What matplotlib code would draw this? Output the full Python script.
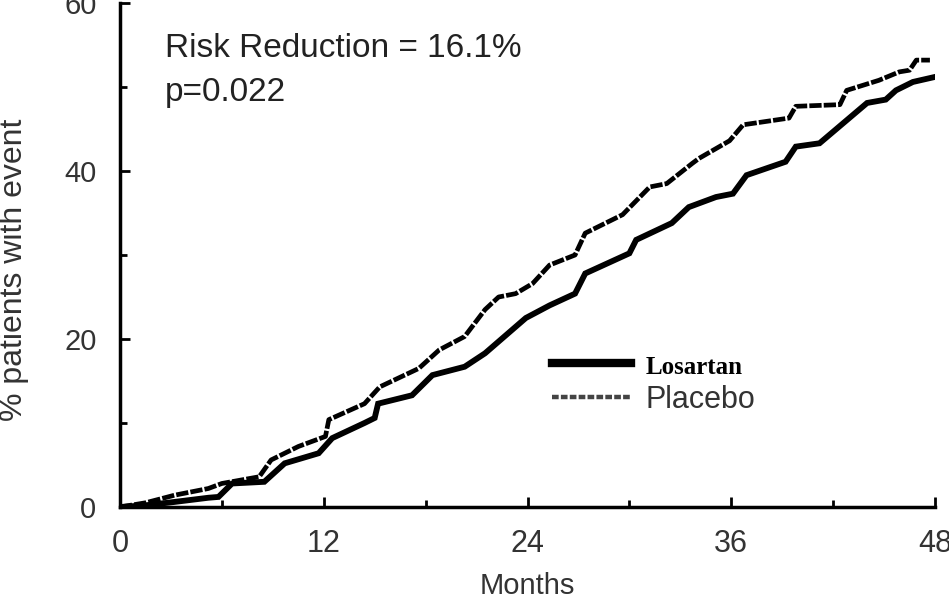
import matplotlib
matplotlib.use("Agg")
import matplotlib.pyplot as plt
from matplotlib.lines import Line2D
from matplotlib.ticker import MultipleLocator

# ---- data ----
months_placebo = [0, 1.5, 3.2, 5.2, 6.0, 8.2, 8.9, 10.5, 12.1, 12.3, 14.4, 15.3, 17.6, 18.8,
                  20.3, 21.5, 22.3, 23.3, 24.3, 25.3, 26.8, 27.4, 29.6, 31.2, 32.2, 33.7,
                  34.1, 35.9, 36.7, 39.4, 39.8, 42.4, 42.8, 44.7, 45.9, 46.5, 46.9, 47.7]
pct_placebo = [0, 0.5, 1.4, 2.2, 2.8, 3.6, 5.6, 7.2, 8.4, 10.4, 12.3, 14.3, 16.5, 18.7,
               20.3, 23.5, 25.0, 25.4, 26.6, 28.8, 30.0, 32.6, 34.8, 38.1, 38.5, 40.9,
               41.5, 43.6, 45.5, 46.3, 47.7, 47.9, 49.6, 50.8, 51.8, 52.0, 53.2, 53.2]

months_losartan = [0, 1.5, 3.2, 5.2, 5.8, 6.6, 8.5, 9.7, 11.7, 12.5, 14.4, 15.0, 15.2, 17.2,
                   18.4, 20.3, 21.5, 23.1, 23.9, 25.3, 26.8, 27.4, 30.0, 30.4, 32.5, 33.5,
                   35.1, 36.1, 36.9, 39.2, 39.8, 41.2, 42.6, 44.0, 45.1, 45.7, 46.7, 48.0]
pct_losartan = [0, 0.2, 0.6, 1.1, 1.2, 2.8, 3.0, 5.2, 6.4, 8.2, 10.0, 10.6, 12.3, 13.3,
                15.7, 16.7, 18.3, 21.1, 22.5, 24.0, 25.4, 27.8, 30.2, 31.8, 33.8, 35.7,
                36.9, 37.3, 39.5, 41.1, 42.9, 43.3, 45.7, 48.1, 48.5, 49.6, 50.6, 51.2]

x_ticks = [0, 12, 24, 36, 48]
y_ticks = [0, 20, 40, 60]
series_names = ["Losartan", "Placebo"]
annot_lines = ["Risk Reduction = 16.1%", "p=0.022"]

SANS = ["Liberation Sans", "DejaVu Sans"]
plt.rcParams["font.family"] = SANS

fig = plt.figure(figsize=(9.49, 6.05), dpi=100)
ax = fig.add_axes([120 / 949, 1 - 507 / 605, (935 - 120) / 949, (507 - 3) / 605])

ax.plot(months_placebo, pct_placebo, color="black", lw=3.4,
        linestyle=(0, (2.6, 0.45)), solid_joinstyle="miter")
ax.plot(months_losartan, pct_losartan, color="black", lw=4.2, solid_joinstyle="miter")

ax.set_xlim(0, 48)
ax.set_ylim(0, 60)
ax.set_xticks(x_ticks)
ax.set_yticks(y_ticks)
ax.xaxis.set_minor_locator(MultipleLocator(6))
ax.yaxis.set_minor_locator(MultipleLocator(10))

for s in ["top", "right"]:
    ax.spines[s].set_visible(False)
for s in ["left", "bottom"]:
    ax.spines[s].set_linewidth(2.5)
    ax.spines[s].set_color("black")

ax.tick_params(axis="both", which="major", direction="in", length=7, width=2,
               labelcolor="#333333")
ax.tick_params(axis="both", which="minor", direction="in", length=5, width=2)
ax.tick_params(axis="y", which="major", pad=17, labelsize=21)
ax.tick_params(axis="x", which="major", pad=16, labelsize=22)

ax.set_xlabel("Months", fontsize=21, color="#333333", labelpad=9)
ax.set_ylabel("% patients with event", fontsize=23, color="#333333")
ax.yaxis.set_label_coords(-0.112, 0.47)

ax.text(0.055, 0.893, annot_lines[0], transform=ax.transAxes, fontsize=24,
        color="#222222", va="baseline")
ax.text(0.055, 0.806, annot_lines[1], transform=ax.transAxes, fontsize=24,
        color="#222222", va="baseline")

handles = [Line2D([], [], color="black", lw=6),
           Line2D([], [], color="#444444", lw=3.2, linestyle=(0, (1.5, 0.5)))]
leg = ax.legend(handles, series_names, loc="center left",
                bbox_to_anchor=(0.515, 0.245), frameon=False, fontsize=22,
                handlelength=2.6, handletextpad=0.45, labelspacing=0.2,
                borderaxespad=0)
t0, t1 = leg.get_texts()
t0.set_fontfamily(["Liberation Serif", "DejaVu Serif"])
t0.set_fontweight("bold")
t0.set_fontsize(18)
t1.set_fontfamily(["Liberation Sans", "DejaVu Sans"])
t1.set_color("#333333")

fig.savefig("out.png", dpi=100, facecolor="white")
